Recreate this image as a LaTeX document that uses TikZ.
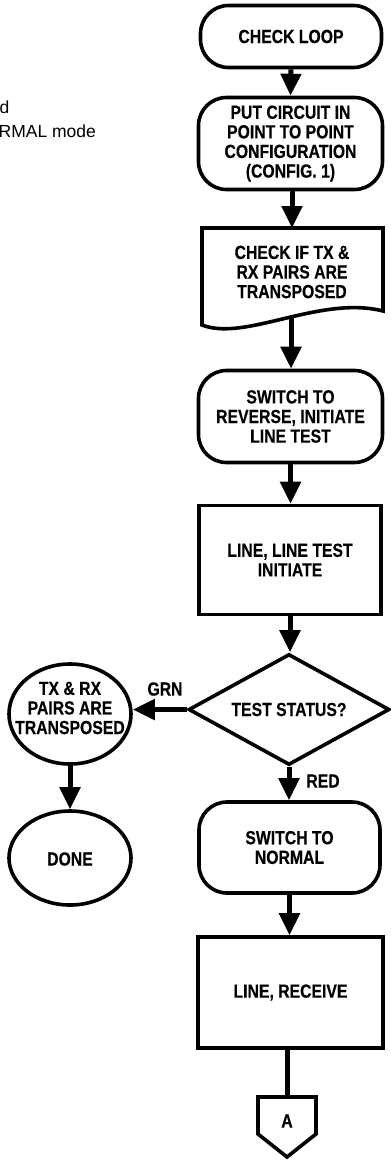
\documentclass[tikz,border=0pt]{standalone}
\usepackage{fontspec}
\setmainfont{Liberation Sans}
\newfontfamily\condfont{Liberation Sans}[FakeStretch=0.83, BoldFeatures={FakeBold=0.3}]
\usetikzlibrary{arrows.meta,shapes.geometric}
\begin{document}
\begin{tikzpicture}[x=1pt,y=-1pt,
  lbl/.style={font=\condfont\bfseries\fontsize{19}{19.6}\selectfont, align=center, inner sep=0pt},
  shp/.style={draw, line width=3.6pt, lbl},
  rbox/.style={shp, rounded corners=28pt},
  sbox/.style={shp},
  oval/.style={draw, line width=3.6pt, ellipse, inner sep=0pt},
  flow/.style={line width=5pt, -{Triangle[length=22pt,width=20pt]}},
  plain/.style={line width=5pt},
  side/.style={font=\fontsize{17.5}{21}\selectfont, inner sep=0pt, anchor=base west}]
\useasboundingbox (0,0) rectangle (391,1160);

% cut-off text at top left
\node[side] (tl1) at (-0.5,113) {d};
\node[side] (tl2) at (-1.5,137.5) {RMAL mode};

% main column
\node[rbox, minimum width=181pt, minimum height=62pt] (n1) at (291,36.5) {CHECK LOOP};
\node[rbox, minimum width=184pt, minimum height=92pt] (n2) at (290.5,143.5)
  {PUT CIRCUIT IN\\POINT TO POINT\\CONFIGURATION\\(CONFIG. 1)};

% document shape
\draw[line width=3.6pt, line join=miter]
  (202,228) -- (383,228) -- (383,311)
  .. controls (320,295) and (245,342) .. (202,325) -- cycle;
\node[lbl] (n3) at (292,272) {CHECK IF TX \&\\RX PAIRS ARE\\TRANSPOSED};
\coordinate (n3b) at (291,318);

\node[rbox, minimum width=184pt, minimum height=92pt] (n4) at (290.5,416.5)
  {SWITCH TO\\REVERSE, INITIATE\\LINE TEST};
\node[sbox, minimum width=182pt, minimum height=109pt] (n5) at (290,560)
  {LINE, LINE TEST\\INITIATE};
\node[shp, diamond, aspect=1.8, minimum width=201pt, minimum height=111pt] (d) at (289,709.5)
  {TEST STATUS?};

% left branch
\node[oval, minimum width=122pt, minimum height=100pt] (e1) at (70,714) {};
\node[lbl] (e1t) at (70,708) {TX \& RX\\PAIRS ARE\\TRANSPOSED};
\node[oval, minimum width=122pt, minimum height=94pt] (e2) at (70,858) {};
\node[lbl] (e2t) at (70,859) {DONE};

\node[rbox, minimum width=181pt, minimum height=91pt] (n6) at (289.5,847.5)
  {SWITCH TO\\NORMAL};
\node[sbox, minimum width=185pt, minimum height=111pt] (n7) at (290.5,992.5)
  {LINE, RECEIVE};

% off-page connector
\draw[line width=3.6pt, line join=miter]
  (258,1097) -- (316,1097) -- (316,1134) -- (287,1157) -- (258,1134) -- cycle;
\coordinate (c) at (287,1097);
\node[lbl] (ca) at (287,1121) {A};

% labels
\node[lbl] (grn) at (165,689) {GRN};
\node[lbl] (red) at (323,781) {RED};

% connectors
\draw[flow] (n1.south) -- (n2.north);
\draw[flow] (n2.south) -- (n3 |- n2.south) -- (292,228);
\draw[flow] (n3b) -- (n3b |- n4.north);
\draw[flow] (n4.south) -- (n4.south |- n5.north);
\draw[flow] (n5.south) -- (n5.south |- d.north);
\draw[flow] (d.west) -- (d.west -| e1.east);
\draw[flow] (e1.south) -- (e2.north);
\draw[flow] (d.south) -- (d.south |- n6.north);
\draw[flow] (n6.south) -- (n6.south |- n7.north);
\draw[plain] (n7.south -| c) -- (c);
\end{tikzpicture}
\end{document}
